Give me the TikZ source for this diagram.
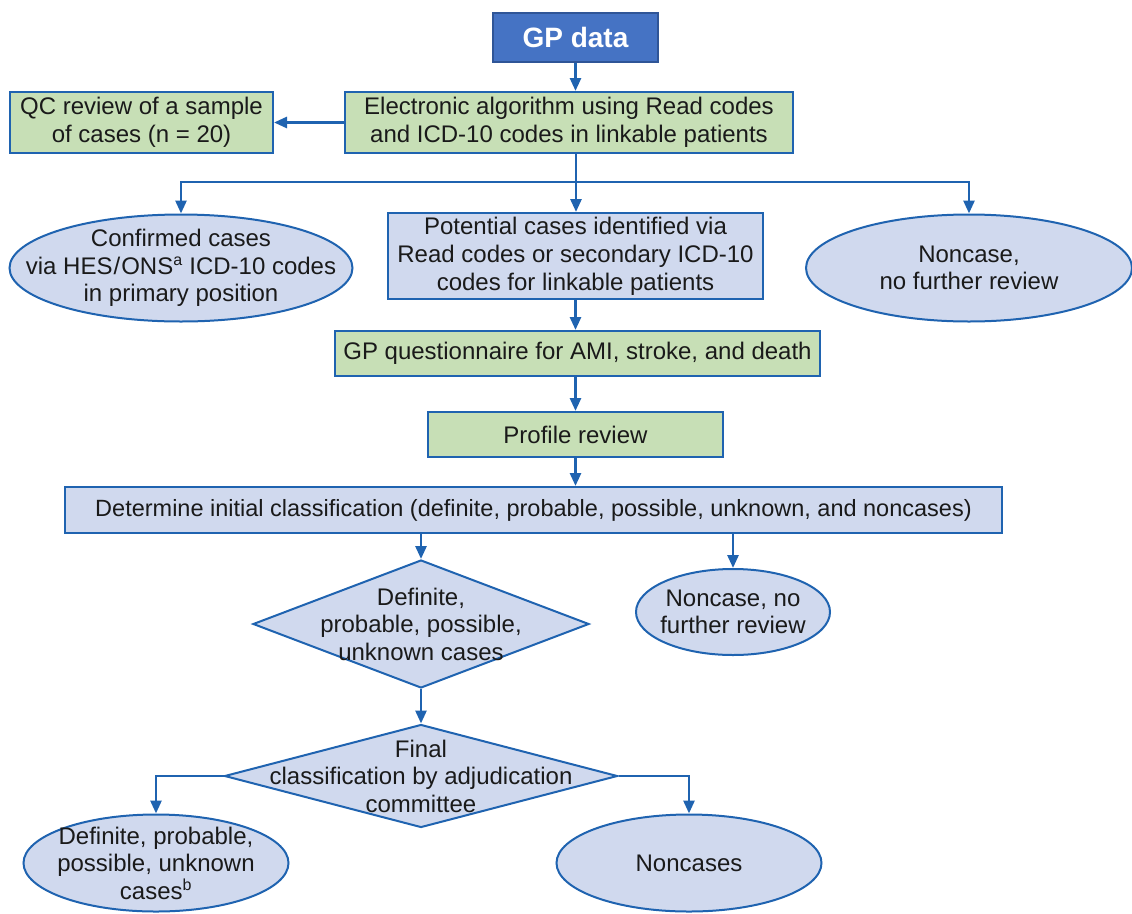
\documentclass[tikz,border=0pt]{standalone}
\usepackage{fontspec}
\setmainfont{Liberation Sans}
\usetikzlibrary{shapes.geometric,arrows.meta}
\definecolor{bcol}{HTML}{1F63B0}
\definecolor{lfill}{HTML}{D0D9EE}
\definecolor{gfill}{HTML}{C7DFB6}
\definecolor{gpfill}{HTML}{4573C4}
\definecolor{gpline}{HTML}{2F5597}
\definecolor{tcol}{HTML}{1A1A1A}
\begin{document}
\begin{tikzpicture}[x=1pt,y=-1pt,
  box/.style={draw=bcol, line width=2pt, fill=lfill, rectangle, inner sep=0pt, align=center, text=tcol, font=\fontsize{24}{28}\selectfont},
  gbox/.style={box, fill=gfill},
  oval/.style={draw=bcol, line width=2pt, fill=lfill, ellipse, inner sep=0pt},
  dia/.style={draw=bcol, line width=2pt, fill=lfill, diamond, inner sep=0pt},
  txt/.style={align=center, inner sep=0pt, text=tcol, font=\fontsize{24}{27.5}\selectfont},
  arr/.style={draw=bcol, line width=2.7pt, -{Triangle[length=13pt,width=11pt]}},
  ln/.style={draw=bcol, line width=2.7pt}]
\useasboundingbox (0,0) rectangle (1132,913);

\node[box, fill=gpfill, draw=gpline, minimum width=165pt, minimum height=49pt, text=white, font=\fontsize{28}{32}\selectfont\bfseries] (gp) at (575.5,37.5) {GP data};
\node[gbox, minimum width=448pt, minimum height=61pt] (elec) at (569,122.5) {Electronic algorithm using Read codes\\and ICD-10 codes in linkable patients};
\node[gbox, minimum width=263pt, minimum height=61pt] (qc) at (141.5,122.5) {QC review of a sample\\of cases (n = 20)};

\node[oval, minimum width=343pt, minimum height=107pt] (e1) at (181,268) {};
\node[txt] (e1t) at (e1) {Confirmed cases\\via HES\kern1pt/\kern1pt ONS\textsuperscript{\fontsize{16}{16}\selectfont a} ICD-10 codes\\in primary position};
\node[box, minimum width=375pt, minimum height=86pt] (cbox) at (575.5,256) {Potential cases identified via\\Read codes or secondary ICD-10\\codes for linkable patients};
\node[oval, minimum width=326pt, minimum height=107pt] (e2) at (969,268) {};
\node[txt] (e2t) at (e2) {Noncase,\\no further review};

\node[gbox, minimum width=485pt, minimum height=45pt] (quest) at (577.5,353.5) {GP questionnaire for AMI, stroke, and death};
\node[gbox, minimum width=295pt, minimum height=45pt] (prof) at (575.5,434.5) {Profile review};
\node[box, minimum width=937pt, minimum height=46pt, font=\fontsize{23.5}{28}\selectfont] (det) at (533.5,510) {Determine initial classification (definite, probable, possible, unknown, and noncases)};

\node[dia, minimum width=336pt, minimum height=128pt] (d1) at (421,624) {};
\node[txt] (d1t) at (d1) {Definite,\\probable, possible,\\unknown cases};
\node[oval, minimum width=194pt, minimum height=86pt] (e3) at (733,612) {};
\node[txt] (e3t) at (e3) {Noncase, no\\further review};

\node[dia, minimum width=393pt, minimum height=103pt] (d2) at (421,776) {};
\node[txt] (d2t) at (d2) {Final\\classification by adjudication\\committee};
\node[oval, minimum width=265pt, minimum height=97pt] (e4) at (156,863) {};
\node[txt] (e4t) at (e4) {Definite, probable,\\possible, unknown\\cases\textsuperscript{\fontsize{16}{16}\selectfont b}};
\node[oval, minimum width=265pt, minimum height=97pt] (e5) at (689,863) {};
\node[txt] (e5t) at (e5) {Noncases};

% connectors
\draw[arr] (gp.south) -- (gp.south |- elec.north);
\draw[arr] (elec.west) -- (qc.east);
\coordinate (br) at (576,182);
\draw[ln] (elec.south -| br) -- (br);
\draw[arr] (br) -- (br |- cbox.north);
\draw[arr] (br) -| (e1.north);
\draw[arr] (br) -| (e2.north);
\draw[arr] (cbox.south) -- (cbox.south |- quest.north);
\draw[arr] (quest.south -| prof.north) -- (prof.north);
\draw[arr] (prof.south) -- (prof.south |- det.north);
\draw[arr] (det.south -| d1.north) -- (d1.north);
\draw[arr] (det.south -| e3.north) -- (e3.north);
\draw[arr] (d1.south) -- (d2.north);
\draw[arr] (d2.west) -| (e4.north);
\draw[arr] (d2.east) -| (e5.north);
\end{tikzpicture}
\end{document}
